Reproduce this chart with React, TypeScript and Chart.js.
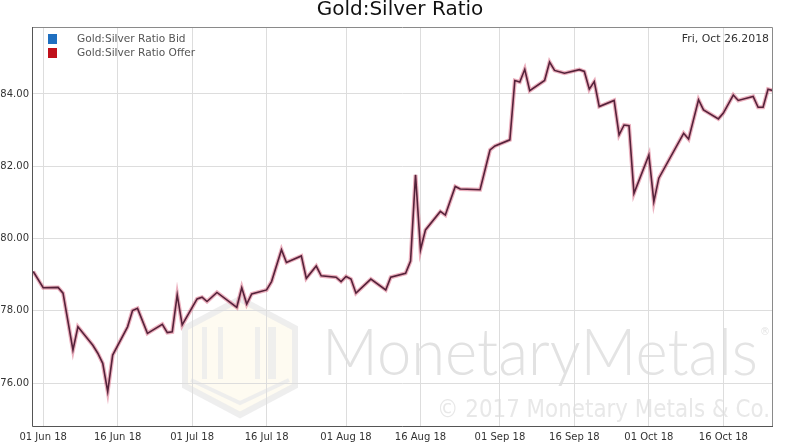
import React, { useEffect, useRef } from 'react';
import { Chart, registerables } from 'chart.js';

Chart.register(...registerables);

const chartTitle = 'Gold:Silver Ratio';
const dateLabel = 'Fri, Oct 26.2018';
const seriesNames = ['Gold:Silver Ratio Bid', 'Gold:Silver Ratio Offer'];
const legendColors = ['#1f6fc0', '#c0101a'];
const lineColors = ['#55223a', 'rgba(210,80,110,0.45)'];

const dates = [
  '2018-05-30', '2018-06-01', '2018-06-04', '2018-06-05', '2018-06-07', '2018-06-08', '2018-06-11',
  '2018-06-12', '2018-06-13', '2018-06-14', '2018-06-15', '2018-06-18', '2018-06-19', '2018-06-20',
  '2018-06-22', '2018-06-25', '2018-06-26', '2018-06-27', '2018-06-28', '2018-06-29', '2018-07-02',
  '2018-07-03', '2018-07-04', '2018-07-06', '2018-07-10', '2018-07-11', '2018-07-12', '2018-07-13',
  '2018-07-16', '2018-07-17', '2018-07-19', '2018-07-20', '2018-07-23', '2018-07-24', '2018-07-26',
  '2018-07-27', '2018-07-30', '2018-07-31', '2018-08-01', '2018-08-02', '2018-08-03', '2018-08-06',
  '2018-08-09', '2018-08-10', '2018-08-13', '2018-08-14', '2018-08-15', '2018-08-16', '2018-08-17',
  '2018-08-20', '2018-08-21', '2018-08-23', '2018-08-24', '2018-08-28', '2018-08-30', '2018-08-31',
  '2018-09-03', '2018-09-04', '2018-09-05', '2018-09-06', '2018-09-07', '2018-09-10', '2018-09-11',
  '2018-09-12', '2018-09-14', '2018-09-17', '2018-09-18', '2018-09-19', '2018-09-20', '2018-09-21',
  '2018-09-24', '2018-09-25', '2018-09-26', '2018-09-27', '2018-09-28', '2018-10-01', '2018-10-02',
  '2018-10-03', '2018-10-08', '2018-10-09', '2018-10-11', '2018-10-12', '2018-10-15', '2018-10-16',
  '2018-10-18', '2018-10-19', '2018-10-22', '2018-10-23', '2018-10-24', '2018-10-25', '2018-10-26',
];

const ratioValues = [
  79.09, 78.64, 78.65, 78.49, 76.92, 77.56, 77.05,
  76.83, 76.55, 75.77, 76.78, 77.56, 78.01, 78.07,
  77.38, 77.63, 77.40, 77.42, 78.44, 77.61, 78.33,
  78.38, 78.26, 78.51, 78.10, 78.64, 78.19, 78.47,
  78.58, 78.81, 79.69, 79.34, 79.52, 78.90, 79.24,
  78.97, 78.93, 78.81, 78.95, 78.88, 78.49, 78.88,
  78.58, 78.93, 79.04, 79.38, 81.76, 79.69, 80.24,
  80.75, 80.65, 81.44, 81.37, 81.35, 82.45, 82.56,
  82.73, 84.37, 84.33, 84.68, 84.09, 84.37, 84.88,
  84.65, 84.57, 84.67, 84.62, 84.13, 84.34, 83.65,
  83.82, 82.87, 83.14, 83.12, 81.25, 82.31, 81.02,
  81.67, 82.91, 82.75, 83.84, 83.56, 83.31, 83.47,
  83.97, 83.82, 83.93, 83.63, 83.63, 84.13, 84.09,
];

const xTickDates = [
  '2018-06-01', '2018-06-16', '2018-07-01', '2018-07-16', '2018-08-01',
  '2018-08-16', '2018-09-01', '2018-09-16', '2018-10-01', '2018-10-16',
];
const xTickLabels = [
  '01 Jun 18', '16 Jun 18', '01 Jul 18', '16 Jul 18', '01 Aug 18',
  '16 Aug 18', '01 Sep 18', '16 Sep 18', '01 Oct 18', '16 Oct 18',
];
const yTickValues = [76, 78, 80, 82, 84];
const xRangeDates = ['2018-05-29', '2018-10-26'];
const yRange = [74.79, 85.85];

const watermarkMain = ['Monetary', 'Metals'];
const watermarkCopy = '\u00A9 2017 Monetary Metals & Co.';

const FONT = '"DejaVu Sans", sans-serif';

function dayOf(s: string): number {
  const [y, m, d] = s.split('-').map(Number);
  return Math.round((Date.UTC(y, m - 1, d) - Date.UTC(2018, 5, 1)) / 86400000);
}

const decorPlugin = {
  id: 'decor',
  beforeDraw(chart: any) {
    const { ctx, chartArea: a, width, height } = chart;
    ctx.save();
    ctx.fillStyle = '#ffffff';
    ctx.fillRect(0, 0, width, height);

    // logo (faint)
    const cx = a.left + 208;
    const cy = a.top + 330;
    const hw = 55;
    const hh = 58;
    const hex = [
      [cx, cy - hh], [cx + hw, cy - hh / 2], [cx + hw, cy + hh / 2],
      [cx, cy + hh], [cx - hw, cy + hh / 2], [cx - hw, cy - hh / 2],
    ];
    ctx.beginPath();
    hex.forEach((p, i) => (i ? ctx.lineTo(p[0], p[1]) : ctx.moveTo(p[0], p[1])));
    ctx.closePath();
    ctx.fillStyle = 'rgba(252,244,215,0.35)';
    ctx.fill();
    ctx.lineWidth = 6;
    ctx.strokeStyle = 'rgba(236,236,236,0.9)';
    ctx.stroke();
    ctx.lineWidth = 4;
    ctx.beginPath();
    ctx.moveTo(cx - hw + 6, cy + hh / 2 - 6);
    ctx.lineTo(cx, cy + hh - 12);
    ctx.lineTo(cx + hw - 6, cy + hh / 2 - 6);
    ctx.stroke();
    ctx.fillStyle = 'rgba(236,236,236,0.85)';
    [[-38, 5], [-22, 5], [15, 5], [28, 8]].forEach(([dx, w]) => {
      ctx.fillRect(cx + dx, cy - 30, w, 52);
    });

    // main watermark text
    ctx.textBaseline = 'alphabetic';
    ctx.textAlign = 'left';
    const mainLeft = a.left + 290;
    const mainBase = a.bottom - 52;
    const mainW = 436;
    const f1 = '300 66px Lato, "Open Sans", sans-serif';
    const f2 = '300 66px Lato, "Open Sans", sans-serif';
    ctx.font = f1;
    const w1 = ctx.measureText(watermarkMain[0]).width;
    ctx.font = f2;
    const w2 = ctx.measureText(watermarkMain[1]).width;
    const sx = mainW / (w1 + w2);
    ctx.save();
    ctx.translate(mainLeft, mainBase);
    ctx.scale(sx, 1);
    ctx.fillStyle = '#e2e2e2';
    ctx.font = f1;
    ctx.fillText(watermarkMain[0], 0, 0);
    ctx.fillStyle = '#e4e4e4';
    ctx.font = f2;
    ctx.fillText(watermarkMain[1], w1, 0);
    ctx.restore();
    ctx.fillStyle = '#e4e4e4';
    ctx.font = '10px ' + FONT;
    ctx.fillText('\u00AE', mainLeft + mainW + 2, mainBase - 40);

    // copyright
    ctx.font = '24px ' + FONT;
    const cw = ctx.measureText(watermarkCopy).width;
    const targetW = 333;
    ctx.save();
    ctx.translate(a.right - 3 - targetW, a.bottom - 10);
    ctx.scale(targetW / cw, 1);
    ctx.fillStyle = '#e8e8e8';
    ctx.fillText(watermarkCopy, 0, 0);
    ctx.restore();
    ctx.restore();
  },
  afterDraw(chart: any) {
    const { ctx, chartArea: a, width } = chart;
    ctx.save();
    // plot frame
    ctx.lineWidth = 1;
    ctx.strokeStyle = '#8a8a8a';
    ctx.beginPath();
    ctx.moveTo(a.left + 0.5, a.top + 0.5);
    ctx.lineTo(a.right - 0.5, a.top + 0.5);
    ctx.lineTo(a.right - 0.5, a.bottom - 0.5);
    ctx.stroke();
    ctx.strokeStyle = '#555555';
    ctx.beginPath();
    ctx.moveTo(a.left + 0.5, a.top);
    ctx.lineTo(a.left + 0.5, a.bottom - 0.5);
    ctx.lineTo(a.right, a.bottom - 0.5);
    ctx.stroke();

    // title
    ctx.fillStyle = '#111';
    ctx.font = '20px ' + FONT;
    ctx.textAlign = 'center';
    ctx.textBaseline = 'alphabetic';
    ctx.fillText(chartTitle, width / 2, 15);

    // legend
    ctx.textAlign = 'left';
    ctx.textBaseline = 'middle';
    ctx.font = '10.6px ' + FONT;
    seriesNames.forEach((name, i) => {
      const y = a.top + 12 + i * 14;
      ctx.fillStyle = legendColors[i];
      ctx.fillRect(a.left + 16, y - 5, 9, 10);
      ctx.fillStyle = '#555';
      ctx.fillText(name, a.left + 45, y);
    });

    // date label
    ctx.textAlign = 'right';
    ctx.fillStyle = '#333';
    ctx.font = '10.9px ' + FONT;
    ctx.fillText(dateLabel, a.right - 4, a.top + 12);
    ctx.restore();
  },
};

export default function App() {
  const canvasRef = useRef<HTMLCanvasElement | null>(null);

  useEffect(() => {
    const canvas = canvasRef.current;
    if (!canvas) return;
    const points = dates.map((d, i) => ({ x: dayOf(d), y: ratioValues[i] }));
    const chart = new Chart(canvas, {
      type: 'line',
      data: {
        datasets: [
          {
            label: seriesNames[0],
            data: points,
            borderColor: lineColors[0],
            borderWidth: 1.6,
            pointRadius: 0,
            tension: 0,
            fill: false,
          },
          {
            label: seriesNames[1],
            data: points,
            borderColor: lineColors[1],
            borderWidth: 4,
            pointRadius: 0,
            tension: 0,
            fill: false,
          },
        ],
      },
      options: {
        animation: false,
        responsive: false,
        layout: { padding: { top: 27, right: 27, left: 0, bottom: 0 } },
        plugins: {
          legend: { display: false },
          tooltip: { enabled: false },
          title: { display: false },
        },
        scales: {
          x: {
            type: 'linear',
            min: dayOf(xRangeDates[0]) + 0.75,
            max: dayOf(xRangeDates[1]),
            afterBuildTicks: (scale: any) => {
              scale.ticks = xTickDates.map((d) => ({ value: dayOf(d) }));
            },
            afterFit: (scale: any) => {
              scale.height = 17;
            },
            grid: { color: '#dddddd', drawTicks: false, lineWidth: 1 },
            border: { display: false },
            ticks: {
              autoSkip: false,
              maxRotation: 0,
              padding: 4,
              color: '#333',
              font: { family: FONT, size: 10 },
              callback: (_v: any, i: number) => xTickLabels[i],
            },
          },
          y: {
            type: 'linear',
            min: yRange[0],
            max: yRange[1],
            afterBuildTicks: (scale: any) => {
              scale.ticks = yTickValues.map((v) => ({ value: v }));
            },
            afterFit: (scale: any) => {
              scale.width = 32;
            },
            grid: { color: '#dddddd', drawTicks: false, lineWidth: 1 },
            border: { display: false },
            ticks: {
              padding: 3,
              color: '#333',
              font: { family: FONT, size: 10 },
              callback: (v: any) => Number(v).toFixed(2),
            },
          },
        },
      },
      plugins: [decorPlugin],
    });
    return () => chart.destroy();
  }, []);

  return (
    <div style={{ position: 'absolute', left: 0, top: 0, width: 800, height: 444, background: '#fff' }}>
      <canvas ref={canvasRef} width={800} height={444} style={{ display: 'block' }} />
    </div>
  );
}
